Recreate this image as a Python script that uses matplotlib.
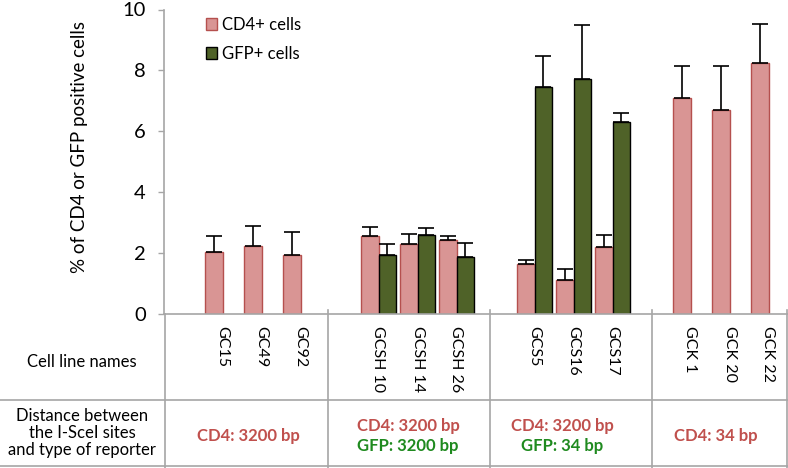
import matplotlib
matplotlib.use("Agg")
import matplotlib.pyplot as plt
from matplotlib.lines import Line2D
from matplotlib.patches import Patch
import numpy as np

plt.rcParams['font.family'] = ['Lato', 'DejaVu Sans']

# ---- data ----
cell_lines = ["", "GC15", "GC49", "GC92", "", "GCSH 10", "GCSH 14", "GCSH 26",
              "", "GCS5", "GCS16", "GCS17", "", "GCK 1", "GCK 20", "GCK 22"]
cd4_vals = [np.nan, 2.05, 2.22, 1.95, np.nan, 2.55, 2.30, 2.42,
            np.nan, 1.65, 1.13, 2.19, np.nan, 7.10, 6.69, 8.25]
cd4_err = [np.nan, 0.50, 0.66, 0.74, np.nan, 0.31, 0.34, 0.15,
           np.nan, 0.13, 0.34, 0.40, np.nan, 1.05, 1.44, 1.28]
gfp_vals = [np.nan, np.nan, np.nan, np.nan, np.nan, 1.95, 2.59, 1.86,
            np.nan, 7.44, 7.72, 6.31, np.nan, np.nan, np.nan, np.nan]
gfp_err = [np.nan, np.nan, np.nan, np.nan, np.nan, 0.35, 0.22, 0.46,
           np.nan, 1.03, 1.78, 0.29, np.nan, np.nan, np.nan, np.nan]
yticks = [0, 2, 4, 6, 8, 10]
series_names = ["CD4+ cells", "GFP+ cells"]
group_texts = [
    [("CD4: 3200 bp", "cd4")],
    [("CD4: 3200 bp", "cd4"), ("GFP: 3200 bp", "gfp")],
    [("CD4: 3200 bp", "cd4"), ("GFP: 34 bp", "gfp")],
    [("CD4: 34 bp", "cd4")],
]

PINK = "#D99594"
PINK_EDGE = "#B5504E"
GREEN = "#4F6228"
RED_TXT = "#C0504D"
GREEN_TXT = "#1F8A1F"
GRID_GRAY = "#A6A6A6"

W, H = 788, 468
fig = plt.figure(figsize=(W / 100, H / 100), dpi=100)

def fx(px):
    return px / W

def fy(py):
    return 1 - py / H

AX_L, AX_B, AX_T = 164, 314, 9.5
ax = fig.add_axes([fx(AX_L), fy(AX_B), fx(W - AX_L), (AX_B - AX_T) / H])

x = np.arange(len(cell_lines))
bw = 0.45
ax.bar(x - bw / 2, cd4_vals, width=bw, color=PINK, edgecolor=PINK_EDGE, linewidth=1.0,
       yerr=[np.zeros(len(x)), cd4_err], error_kw=dict(ecolor="black", elinewidth=1.2,
       capsize=5.5, capthick=1.2), label=series_names[0], zorder=3)
ax.bar(x + bw / 2, gfp_vals, width=bw, color=GREEN, edgecolor="black", linewidth=1.0,
       yerr=[np.zeros(len(x)), gfp_err], error_kw=dict(ecolor="black", elinewidth=1.2,
       capsize=5.5, capthick=1.2), label=series_names[1], zorder=3)

ax.set_xlim(-0.5, len(cell_lines) - 0.5)
ax.set_ylim(0, 10)
ax.set_yticks(yticks)
ax.tick_params(axis='y', labelsize=14.5, length=4, width=1, color=GRID_GRAY, pad=9)
named = [i for i, n in enumerate(cell_lines) if n]
ax.set_xticks(named)
ax.set_xticklabels([cell_lines[i] for i in named], rotation=270, fontsize=11.5,
                   va='top', ha='center')
ax.tick_params(axis='x', length=0, pad=9)
for s in ["top", "right"]:
    ax.spines[s].set_visible(False)
for s in ["left", "bottom"]:
    ax.spines[s].set_color(GRID_GRAY)
    ax.spines[s].set_linewidth(1.2)
ax.spines["bottom"].set_zorder(4)

ax.set_ylabel("% of CD4 or GFP positive cells", fontsize=13.5)
ax.yaxis.set_label_coords((88 - AX_L) / (W - AX_L), (AX_B - 147) / (AX_B - AX_T))

handles = [Patch(facecolor=PINK, edgecolor=PINK_EDGE, linewidth=1.0),
           Patch(facecolor=GREEN, edgecolor="black", linewidth=1.0)]
fig.legend(handles, series_names, loc="upper left", bbox_to_anchor=(fx(199), fy(10)),
           frameon=False, fontsize=12, handlelength=0.7, handleheight=0.7,
           handletextpad=0.3, labelspacing=0.8, borderaxespad=0)

# ---- table structure ----
def hline(py, x0=0, x1=W):
    fig.add_artist(Line2D([fx(x0), fx(x1)], [fy(py), fy(py)], color=GRID_GRAY, lw=1.2))

def vline(px, y0=314, y1=H):
    fig.add_artist(Line2D([fx(px), fx(px)], [fy(y0), fy(y1)], color=GRID_GRAY, lw=1.2))

hline(400)
hline(466)
vline(164.5)
for px in [328, 490, 652, 787]:
    vline(px, 310)

fig.text(fx(82), fy(362), "Cell line names", fontsize=12, ha="center", va="center")
fig.text(fx(82), fy(433), "Distance between\nthe I-SceI sites\nand type of reporter",
         fontsize=12, ha="center", va="center", linespacing=1.05)

centers = [248, 408, 562, 716]
for cx, lines in zip(centers, group_texts):
    n = len(lines)
    ys = [436.5] if n == 1 else [426, 446.5]
    for (t, kind), yy in zip(lines, ys):
        fig.text(fx(cx), fy(yy), t, fontsize=12, fontweight="bold", ha="center", va="center",
                 color=RED_TXT if kind == "cd4" else GREEN_TXT)

fig.savefig("out.png", dpi=100)
